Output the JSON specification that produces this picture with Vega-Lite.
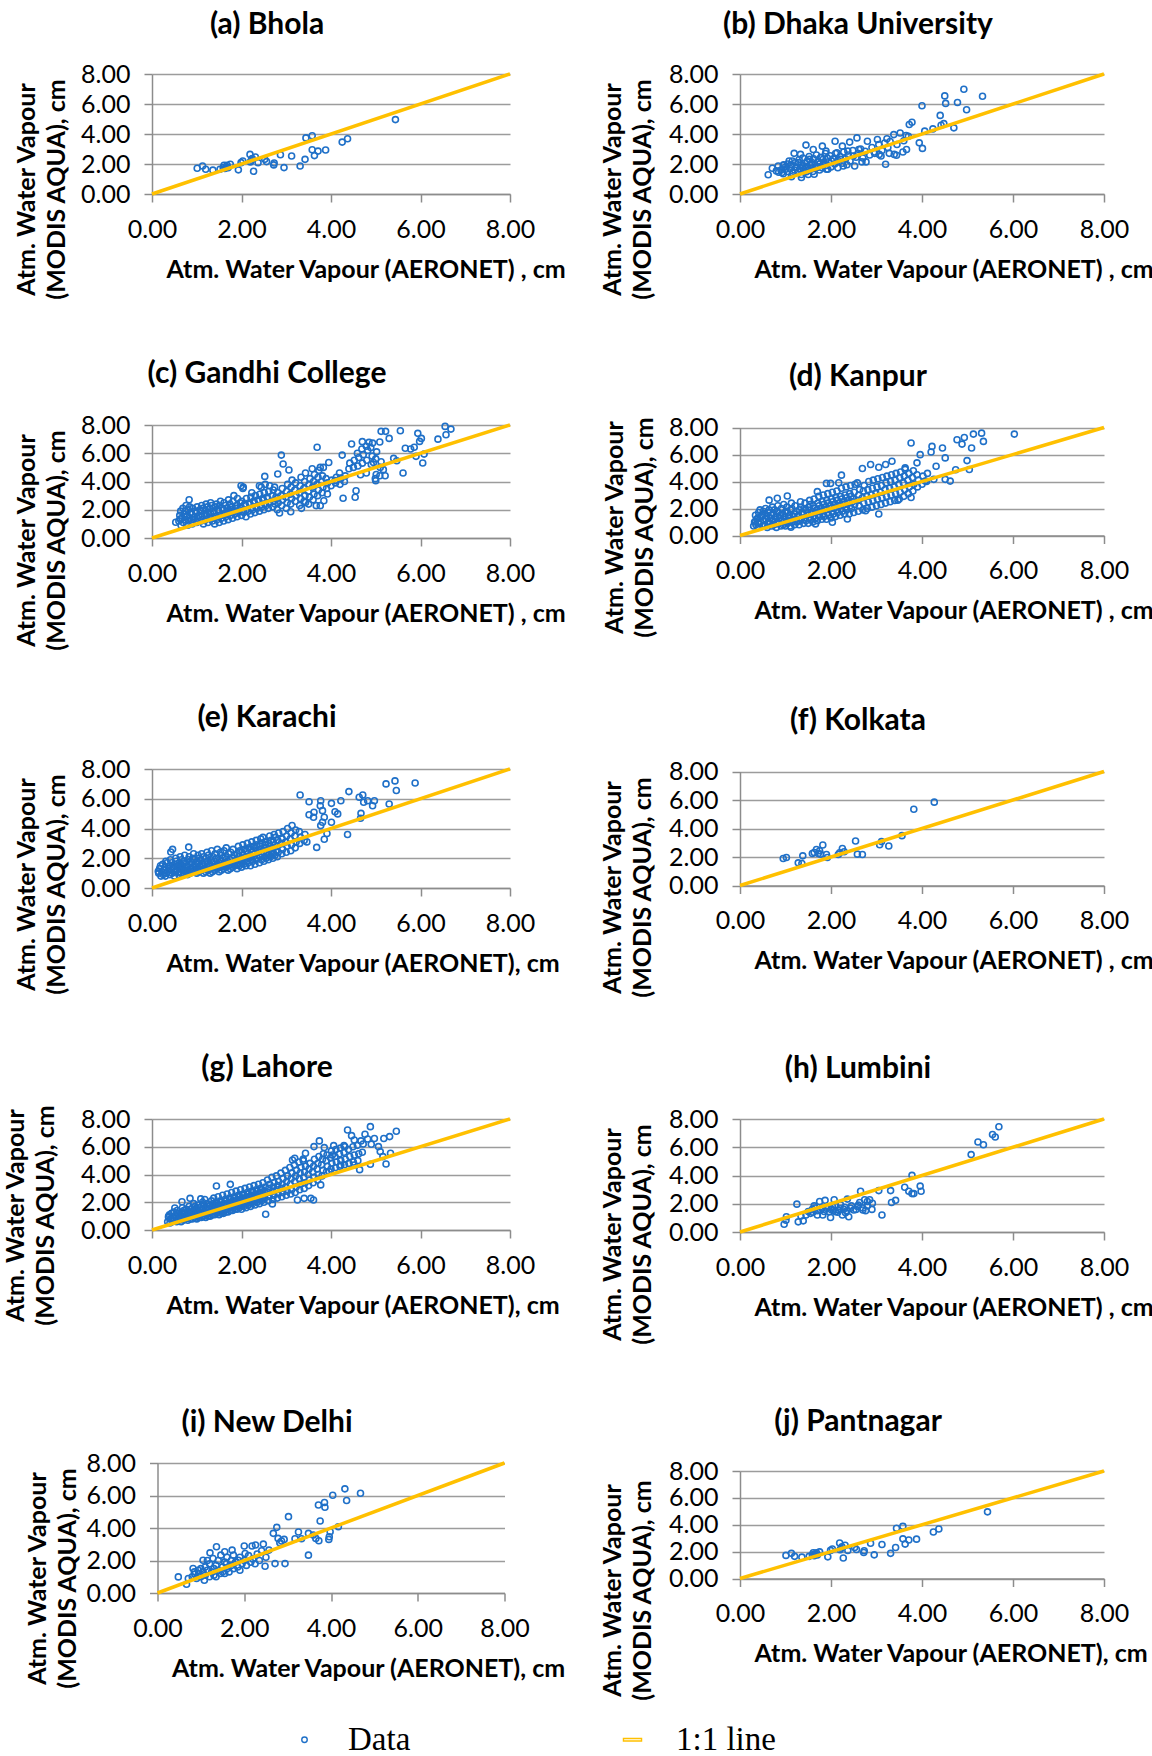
{
"$schema": "https://vega.github.io/schema/vega-lite/v6.json",
"padding": {"left": 3, "top": 9, "right": 0, "bottom": 0},
"background": "white",
"config": {
 "font": "Lato",
 "numberFormat": ".2f",
 "view": {"stroke": null},
 "title": {"font": "Lato", "fontSize": 30, "fontWeight": "bold", "color": "#000", "anchor": "middle", "frame": "group", "dx": -64, "baseline": "middle"},
 "axis": {"labelFont": "Lato", "labelFontSize": 25, "labelColor": "#000", "titleFont": "Lato", "titleFontSize": 25, "titleFontWeight": "bold", "titleColor": "#000", "domainColor": "#8c8c8c", "domainWidth": 1.5, "tickColor": "#8c8c8c", "tickWidth": 1.5, "tickSize": 8, "gridColor": "#9c9c9c", "gridWidth": 1.5, "gridOpacity": 1, "labelFlush": false, "labelOverlap": false, "titleLimit": 1000},
 "axisX": {"grid": false, "labelPadding": 15, "titleAnchor": "start", "titleAlign": "left", "titleX": 14, "titleY": 75, "titleBaseline": "middle", "labelOverlap": false},
 "axisY": {"grid": true, "labelPadding": 14, "titleAngle": -90, "titleAlign": "center", "titleBaseline": "middle", "titleX": -126, "titleY": 115, "titleLineHeight": 30, "labelOverlap": false}
},
"datasets": {
 "line": [{"x":0,"y":0},{"x":8,"y":8}],
 "a": [{"x":1.01,"y":1.72},{"x":1.13,"y":1.87},{"x":1.2,"y":1.65},{"x":1.36,"y":1.59},{"x":1.52,"y":1.65},{"x":1.59,"y":1.76},{"x":1.61,"y":1.92},{"x":1.63,"y":1.7},{"x":1.66,"y":1.81},{"x":1.68,"y":1.92},{"x":1.7,"y":1.75},{"x":1.75,"y":1.98},{"x":1.93,"y":1.61},{"x":1.99,"y":2.09},{"x":2.03,"y":2.2},{"x":2.19,"y":2.64},{"x":2.2,"y":2.14},{"x":2.22,"y":2.25},{"x":2.24,"y":2.36},{"x":2.27,"y":1.52},{"x":2.31,"y":2.47},{"x":2.37,"y":2.09},{"x":2.52,"y":2.31},{"x":2.56,"y":2.16},{"x":2.72,"y":1.94},{"x":2.73,"y":2.07},{"x":2.87,"y":2.62},{"x":2.95,"y":1.76},{"x":3.12,"y":2.53},{"x":3.31,"y":1.87},{"x":3.42,"y":2.31},{"x":3.44,"y":3.74},{"x":3.58,"y":3.88},{"x":3.58,"y":2.95},{"x":3.63,"y":2.56},{"x":3.71,"y":2.86},{"x":3.88,"y":2.93},{"x":4.25,"y":3.46},{"x":4.37,"y":3.68},{"x":5.44,"y":4.96}],
 "b": [{"x":0.62,"y":1.28},{"x":0.71,"y":1.72},{"x":0.8,"y":1.54},{"x":0.84,"y":1.87},{"x":0.92,"y":1.43},{"x":0.96,"y":1.94},{"x":1.0,"y":1.65},{"x":1.08,"y":2.2},{"x":1.13,"y":1.15},{"x":1.19,"y":2.71},{"x":1.23,"y":1.76},{"x":1.29,"y":2.09},{"x":1.33,"y":2.64},{"x":1.35,"y":1.1},{"x":1.38,"y":1.87},{"x":1.45,"y":3.26},{"x":1.46,"y":1.48},{"x":1.53,"y":2.31},{"x":1.58,"y":1.98},{"x":1.61,"y":2.97},{"x":1.63,"y":1.32},{"x":1.69,"y":1.76},{"x":1.77,"y":2.42},{"x":1.81,"y":3.19},{"x":1.83,"y":1.98},{"x":1.89,"y":2.86},{"x":1.93,"y":1.65},{"x":2.01,"y":2.2},{"x":2.09,"y":3.52},{"x":2.13,"y":2.75},{"x":2.21,"y":2.31},{"x":2.25,"y":3.19},{"x":2.27,"y":1.87},{"x":2.37,"y":2.86},{"x":2.41,"y":3.46},{"x":2.49,"y":2.53},{"x":2.52,"y":1.87},{"x":2.57,"y":3.74},{"x":2.61,"y":2.97},{"x":2.68,"y":2.14},{"x":2.77,"y":2.14},{"x":2.8,"y":3.52},{"x":2.96,"y":2.71},{"x":3.02,"y":3.63},{"x":3.06,"y":2.64},{"x":3.1,"y":2.53},{"x":3.2,"y":1.98},{"x":3.23,"y":3.68},{"x":3.28,"y":2.71},{"x":3.38,"y":3.96},{"x":3.39,"y":2.64},{"x":3.44,"y":2.58},{"x":3.52,"y":4.07},{"x":3.58,"y":2.8},{"x":3.66,"y":2.97},{"x":3.7,"y":3.85},{"x":3.72,"y":4.63},{"x":3.78,"y":4.78},{"x":3.94,"y":3.41},{"x":4.0,"y":5.88},{"x":4.01,"y":3.04},{"x":4.06,"y":4.19},{"x":4.24,"y":4.34},{"x":4.4,"y":5.24},{"x":4.42,"y":4.58},{"x":4.48,"y":4.69},{"x":4.5,"y":6.54},{"x":4.52,"y":6.04},{"x":4.7,"y":4.41},{"x":4.78,"y":6.1},{"x":4.92,"y":6.98},{"x":4.98,"y":5.62},{"x":5.33,"y":6.52},
  {"x":0.85,"y":1.45},{"x":0.9,"y":1.6},{"x":0.95,"y":1.35},{"x":1.0,"y":1.8},{"x":1.05,"y":1.5},{"x":1.1,"y":1.7},{"x":1.12,"y":1.95},{"x":1.15,"y":1.4},{"x":1.2,"y":1.6},{"x":1.22,"y":2.1},{"x":1.25,"y":1.8},{"x":1.28,"y":1.5},{"x":1.3,"y":2.3},{"x":1.32,"y":1.7},{"x":1.35,"y":1.95},{"x":1.38,"y":2.4},{"x":1.4,"y":1.55},{"x":1.42,"y":2.05},{"x":1.45,"y":1.8},{"x":1.48,"y":2.2},{"x":1.5,"y":1.6},{"x":1.52,"y":2.5},{"x":1.55,"y":1.9},{"x":1.58,"y":2.1},{"x":1.6,"y":1.7},{"x":1.62,"y":2.35},{"x":1.65,"y":1.95},{"x":1.68,"y":2.6},{"x":1.7,"y":1.8},{"x":1.72,"y":2.2},{"x":1.75,"y":2.0},{"x":1.78,"y":2.45},{"x":1.8,"y":1.75},{"x":1.82,"y":2.3},{"x":1.85,"y":2.05},{"x":1.88,"y":2.7},{"x":1.9,"y":1.9},{"x":1.92,"y":2.4},{"x":1.95,"y":2.15},{"x":1.98,"y":2.55},{"x":2.0,"y":1.8},{"x":2.05,"y":2.35},{"x":2.08,"y":2.0},{"x":2.1,"y":2.7},{"x":2.15,"y":2.25},{"x":2.2,"y":2.5},{"x":2.25,"y":2.05},{"x":2.28,"y":2.8},{"x":2.32,"y":2.35},{"x":2.38,"y":2.6},{"x":2.42,"y":2.2},{"x":2.48,"y":2.9},{"x":2.55,"y":2.45},{"x":2.6,"y":2.7},{"x":2.65,"y":3.0},{"x":2.7,"y":2.4},{"x":2.75,"y":2.85},{"x":2.85,"y":2.6},{"x":2.9,"y":3.1},{"x":2.95,"y":2.8},{"x":3.05,"y":3.3},{"x":3.12,"y":2.9},{"x":3.18,"y":3.4},{"x":3.25,"y":3.1},{"x":3.3,"y":3.5},{"x":3.45,"y":3.3},{"x":3.6,"y":3.55},{"x":3.65,"y":3.9},{"x":1.15,"y":2.2},{"x":1.35,"y":1.3},{"x":1.5,"y":1.3},{"x":1.6,"y":1.5},{"x":1.75,"y":1.6},{"x":0.95,"y":1.9},{"x":1.05,"y":2.0},{"x":2.35,"y":1.95},{"x":2.15,"y":1.75},{"x":1.9,"y":1.65}],
 "c": [{"x":0.53,"y":1.11},{"x":0.63,"y":1.34},{"x":0.83,"y":2.71},{"x":2.89,"y":5.87},{"x":2.93,"y":5.24},{"x":3.06,"y":4.81},{"x":2.81,"y":4.53},{"x":2.52,"y":4.36},{"x":2.4,"y":3.7},{"x":1.99,"y":3.7},{"x":3.69,"y":6.42},{"x":3.76,"y":5.0},{"x":3.95,"y":5.35},{"x":4.25,"y":5.87},{"x":4.46,"y":6.65},{"x":4.7,"y":6.82},{"x":4.85,"y":6.77},{"x":4.93,"y":6.72},{"x":5.12,"y":7.55},{"x":5.22,"y":7.55},{"x":5.3,"y":7.05},{"x":5.55,"y":7.59},{"x":5.61,"y":4.6},{"x":5.47,"y":5.47},{"x":5.4,"y":5.64},{"x":5.94,"y":7.41},{"x":6.02,"y":7.05},{"x":5.98,"y":6.84},{"x":6.08,"y":5.94},{"x":6.05,"y":5.31},{"x":5.86,"y":6.42},{"x":5.9,"y":5.78},{"x":6.39,"y":7.0},{"x":6.57,"y":7.31},{"x":6.55,"y":7.9},{"x":6.68,"y":7.71},{"x":5.78,"y":6.3},{"x":5.66,"y":6.35},{"x":5.21,"y":4.41},{"x":5.17,"y":4.84},{"x":5.09,"y":4.41},{"x":5.0,"y":4.06},{"x":4.95,"y":5.35},{"x":4.79,"y":4.6},{"x":4.66,"y":4.48},{"x":4.56,"y":3.35},{"x":4.54,"y":2.88},{"x":4.27,"y":2.81},{"x":4.21,"y":4.24},{"x":4.09,"y":4.06},{"x":3.92,"y":3.11},{"x":3.84,"y":2.64},{"x":3.76,"y":2.29},{"x":3.67,"y":2.29},{"x":3.43,"y":2.52},{"x":3.34,"y":2.1},{"x":3.1,"y":1.86},{"x":2.85,"y":1.77},
  {"x":0.6,"y":1.2},{"x":0.62,"y":1.6},{"x":0.65,"y":0.9},{"x":0.67,"y":1.4},{"x":0.64,"y":1.9},{"x":0.7,"y":1.1},{"x":0.72,"y":1.7},{"x":0.69,"y":2.1},{"x":0.75,"y":1.3},{"x":0.77,"y":1.5},{"x":0.74,"y":1.9},{"x":0.76,"y":2.3},{"x":0.8,"y":0.9},{"x":0.82,"y":1.2},{"x":0.79,"y":1.6},{"x":0.81,"y":2.0},{"x":0.85,"y":1.4},{"x":0.87,"y":1.8},{"x":0.84,"y":2.2},{"x":0.9,"y":1.0},{"x":0.92,"y":1.3},{"x":0.89,"y":1.7},{"x":0.91,"y":2.1},{"x":0.95,"y":1.5},{"x":0.97,"y":1.9},{"x":1.0,"y":1.1},{"x":1.02,"y":1.4},{"x":0.99,"y":1.8},{"x":1.01,"y":2.2},{"x":1.05,"y":1.6},{"x":1.07,"y":2.0},{"x":1.1,"y":1.2},{"x":1.12,"y":1.5},{"x":1.09,"y":1.9},{"x":1.11,"y":2.3},{"x":1.15,"y":1.0},{"x":1.17,"y":1.7},{"x":1.14,"y":2.1},{"x":1.2,"y":1.3},{"x":1.22,"y":1.6},{"x":1.19,"y":2.0},{"x":1.21,"y":2.4},{"x":1.25,"y":1.1},{"x":1.27,"y":1.8},{"x":1.24,"y":2.2},{"x":1.3,"y":1.4},{"x":1.32,"y":1.7},{"x":1.29,"y":2.1},{"x":1.31,"y":2.5},{"x":1.35,"y":1.2},{"x":1.37,"y":1.9},{"x":1.34,"y":2.3},{"x":1.4,"y":1.0},{"x":1.42,"y":1.5},{"x":1.39,"y":1.8},{"x":1.41,"y":2.2},{"x":1.45,"y":1.3},{"x":1.47,"y":2.0},{"x":1.44,"y":2.4},{"x":1.5,"y":1.1},{"x":1.52,"y":1.6},{"x":1.49,"y":1.9},{"x":1.51,"y":2.3},{"x":1.53,"y":2.6},{"x":1.55,"y":1.4},{"x":1.57,"y":2.1},{"x":1.6,"y":1.2},{"x":1.62,"y":1.7},{"x":1.59,"y":2.0},{"x":1.61,"y":2.5},{"x":1.65,"y":1.5},{"x":1.67,"y":1.9},{"x":1.64,"y":2.3},{"x":1.7,"y":1.3},{"x":1.72,"y":1.8},{"x":1.69,"y":2.1},{"x":1.71,"y":2.7},{"x":1.75,"y":1.6},{"x":1.77,"y":2.0},{"x":1.74,"y":2.4},{"x":1.8,"y":1.4},{"x":1.82,"y":1.9},{"x":1.79,"y":2.2},{"x":1.81,"y":2.6},{"x":1.83,"y":3.0},{"x":1.85,"y":1.7},{"x":1.87,"y":2.1},{"x":1.9,"y":1.5},{"x":1.92,"y":1.8},{"x":1.89,"y":2.3},{"x":1.91,"y":2.8},{"x":1.95,"y":2.0},{"x":1.97,"y":2.5},{"x":2.0,"y":1.6},{"x":2.02,"y":1.9},{"x":1.99,"y":2.2},{"x":2.01,"y":2.6},{"x":2.03,"y":3.5},{"x":2.05,"y":1.8},{"x":2.07,"y":2.4},{"x":2.04,"y":3.6},{"x":2.1,"y":1.5},{"x":2.12,"y":2.0},{"x":2.09,"y":2.3},{"x":2.11,"y":2.8},{"x":2.15,"y":1.9},{"x":2.17,"y":2.5},{"x":2.2,"y":1.7},{"x":2.22,"y":2.1},{"x":2.19,"y":2.4},{"x":2.21,"y":2.9},{"x":2.23,"y":3.2},{"x":2.25,"y":2.0},{"x":2.27,"y":2.6},{"x":2.3,"y":1.8},{"x":2.32,"y":2.2},{"x":2.29,"y":2.5},{"x":2.31,"y":3.0},{"x":2.35,"y":2.1},{"x":2.37,"y":2.7},{"x":2.4,"y":1.9},{"x":2.42,"y":2.3},{"x":2.39,"y":2.6},{"x":2.41,"y":3.1},{"x":2.45,"y":2.2},{"x":2.47,"y":2.8},{"x":2.44,"y":3.6},{"x":2.5,"y":2.0},{"x":2.52,"y":2.4},{"x":2.49,"y":2.7},{"x":2.51,"y":3.2},{"x":2.53,"y":3.8},{"x":2.55,"y":2.3},{"x":2.57,"y":2.9},{"x":2.6,"y":2.1},{"x":2.62,"y":2.5},{"x":2.59,"y":2.8},{"x":2.61,"y":3.3},{"x":2.63,"y":3.7},{"x":2.7,"y":2.2},{"x":2.72,"y":2.6},{"x":2.69,"y":3.0},{"x":2.71,"y":3.4},{"x":2.75,"y":2.4},{"x":2.77,"y":2.9},{"x":2.74,"y":3.6},{"x":2.8,"y":2.0},{"x":2.82,"y":2.5},{"x":2.79,"y":2.8},{"x":2.81,"y":3.2},{"x":2.9,"y":2.3},{"x":2.92,"y":2.7},{"x":2.89,"y":3.0},{"x":2.91,"y":3.5},{"x":3.0,"y":2.1},{"x":3.02,"y":2.5},{"x":2.99,"y":2.9},{"x":3.01,"y":3.3},{"x":3.03,"y":3.8},{"x":3.1,"y":2.4},{"x":3.12,"y":2.8},{"x":3.09,"y":3.1},{"x":3.11,"y":3.6},{"x":3.13,"y":4.1},{"x":3.2,"y":2.6},{"x":3.22,"y":3.0},{"x":3.19,"y":3.4},{"x":3.21,"y":3.9},{"x":3.3,"y":2.3},{"x":3.32,"y":2.8},{"x":3.29,"y":3.2},{"x":3.31,"y":3.7},{"x":3.33,"y":4.3},{"x":3.4,"y":2.6},{"x":3.42,"y":3.0},{"x":3.39,"y":3.5},{"x":3.41,"y":4.0},{"x":3.43,"y":4.6},{"x":3.5,"y":2.4},{"x":3.52,"y":2.9},{"x":3.49,"y":3.3},{"x":3.51,"y":3.8},{"x":3.53,"y":4.2},{"x":3.6,"y":2.7},{"x":3.62,"y":3.1},{"x":3.59,"y":3.6},{"x":3.61,"y":4.0},{"x":3.63,"y":4.5},{"x":3.58,"y":4.9},{"x":3.7,"y":3.0},{"x":3.72,"y":3.4},{"x":3.69,"y":3.8},{"x":3.71,"y":4.3},{"x":3.73,"y":4.8},{"x":3.8,"y":3.2},{"x":3.82,"y":3.6},{"x":3.79,"y":4.0},{"x":3.81,"y":4.4},{"x":3.83,"y":5.0},{"x":3.9,"y":3.5},{"x":3.92,"y":3.9},{"x":3.89,"y":4.2},{"x":4.0,"y":3.7},{"x":4.02,"y":4.1},{"x":4.1,"y":3.9},{"x":4.12,"y":4.3},{"x":4.2,"y":3.8},{"x":4.22,"y":4.2},{"x":4.19,"y":4.6},{"x":4.3,"y":4.0},{"x":4.32,"y":4.4},{"x":4.4,"y":4.9},{"x":4.42,"y":5.3},{"x":4.5,"y":5.0},{"x":4.52,"y":5.5},{"x":4.6,"y":5.1},{"x":4.62,"y":5.7},{"x":4.59,"y":6.0},{"x":4.7,"y":5.3},{"x":4.72,"y":5.9},{"x":4.69,"y":6.3},{"x":4.8,"y":5.5},{"x":4.82,"y":6.2},{"x":4.79,"y":6.5},{"x":4.9,"y":5.2},{"x":4.92,"y":5.8},{"x":4.89,"y":6.4},{"x":5.0,"y":5.6},{"x":5.02,"y":6.1},{"x":4.99,"y":4.2},{"x":5.01,"y":4.5},{"x":5.1,"y":5.0},{"x":5.12,"y":5.4},{"x":5.09,"y":6.8}],
 "d": [{"x":0.34,"y":1.05},{"x":0.64,"y":2.62},{"x":0.82,"y":2.76},{"x":1.04,"y":2.93},{"x":1.7,"y":3.25},{"x":1.9,"y":3.86},{"x":1.99,"y":3.86},{"x":2.17,"y":3.91},{"x":2.23,"y":4.47},{"x":2.69,"y":4.96},{"x":2.87,"y":5.26},{"x":3.05,"y":5.06},{"x":3.2,"y":5.26},{"x":3.34,"y":5.5},{"x":3.63,"y":5.01},{"x":3.76,"y":6.85},{"x":3.89,"y":5.38},{"x":3.96,"y":5.99},{"x":4.22,"y":6.6},{"x":4.2,"y":6.19},{"x":4.31,"y":5.13},{"x":4.45,"y":6.48},{"x":4.51,"y":5.75},{"x":4.62,"y":4.03},{"x":4.74,"y":4.87},{"x":4.77,"y":7.09},{"x":4.88,"y":6.77},{"x":4.93,"y":7.26},{"x":4.99,"y":5.55},{"x":5.04,"y":4.89},{"x":5.09,"y":6.48},{"x":5.13,"y":7.51},{"x":5.31,"y":7.58},{"x":5.35,"y":6.97},{"x":6.03,"y":7.51},{"x":4.51,"y":4.16},{"x":4.26,"y":4.16},{"x":4.07,"y":4.03},{"x":3.76,"y":2.81},{"x":3.47,"y":2.62},{"x":3.05,"y":1.59},{"x":2.76,"y":1.83},{"x":2.36,"y":1.22},{"x":2.03,"y":0.98},{"x":1.66,"y":0.86},{"x":1.12,"y":0.61},
  {"x":0.3,"y":0.7},{"x":0.32,"y":1.0},{"x":0.35,"y":0.8},{"x":0.37,"y":1.2},{"x":0.34,"y":1.5},{"x":0.4,"y":0.6},{"x":0.42,"y":0.9},{"x":0.39,"y":1.3},{"x":0.41,"y":1.7},{"x":0.45,"y":1.0},{"x":0.47,"y":1.4},{"x":0.44,"y":1.9},{"x":0.5,"y":0.7},{"x":0.52,"y":1.1},{"x":0.49,"y":1.5},{"x":0.51,"y":1.8},{"x":0.55,"y":0.8},{"x":0.57,"y":1.2},{"x":0.54,"y":1.6},{"x":0.56,"y":2.0},{"x":0.6,"y":0.6},{"x":0.62,"y":1.0},{"x":0.59,"y":1.4},{"x":0.61,"y":1.7},{"x":0.65,"y":0.9},{"x":0.67,"y":1.3},{"x":0.64,"y":1.9},{"x":0.7,"y":0.7},{"x":0.72,"y":1.1},{"x":0.69,"y":1.5},{"x":0.71,"y":2.1},{"x":0.75,"y":0.8},{"x":0.77,"y":1.2},{"x":0.74,"y":1.6},{"x":0.76,"y":1.9},{"x":0.8,"y":0.6},{"x":0.82,"y":1.0},{"x":0.79,"y":1.4},{"x":0.81,"y":1.8},{"x":0.83,"y":2.2},{"x":0.85,"y":0.9},{"x":0.87,"y":1.3},{"x":0.84,"y":1.7},{"x":0.9,"y":0.7},{"x":0.92,"y":1.1},{"x":0.89,"y":1.5},{"x":0.91,"y":2.0},{"x":0.95,"y":0.8},{"x":0.97,"y":1.2},{"x":0.94,"y":1.6},{"x":0.96,"y":2.3},{"x":1.0,"y":0.7},{"x":1.02,"y":1.0},{"x":0.99,"y":1.4},{"x":1.01,"y":1.8},{"x":1.03,"y":2.1},{"x":1.05,"y":0.9},{"x":1.07,"y":1.3},{"x":1.04,"y":1.7},{"x":1.1,"y":0.7},{"x":1.12,"y":1.1},{"x":1.09,"y":1.5},{"x":1.11,"y":1.9},{"x":1.13,"y":2.4},{"x":1.15,"y":1.0},{"x":1.17,"y":1.4},{"x":1.14,"y":2.0},{"x":1.2,"y":0.8},{"x":1.22,"y":1.2},{"x":1.19,"y":1.6},{"x":1.21,"y":2.2},{"x":1.25,"y":1.0},{"x":1.27,"y":1.4},{"x":1.24,"y":1.8},{"x":1.3,"y":0.8},{"x":1.32,"y":1.1},{"x":1.29,"y":1.5},{"x":1.31,"y":1.9},{"x":1.33,"y":2.5},{"x":1.35,"y":1.3},{"x":1.37,"y":1.7},{"x":1.34,"y":2.1},{"x":1.4,"y":0.9},{"x":1.42,"y":1.2},{"x":1.39,"y":1.6},{"x":1.41,"y":2.0},{"x":1.43,"y":2.4},{"x":1.45,"y":1.1},{"x":1.47,"y":1.5},{"x":1.44,"y":1.9},{"x":1.5,"y":0.9},{"x":1.52,"y":1.3},{"x":1.49,"y":1.7},{"x":1.51,"y":2.1},{"x":1.53,"y":2.6},{"x":1.55,"y":1.2},{"x":1.57,"y":1.6},{"x":1.54,"y":2.3},{"x":1.6,"y":1.0},{"x":1.62,"y":1.4},{"x":1.59,"y":1.8},{"x":1.61,"y":2.2},{"x":1.63,"y":2.7},{"x":1.65,"y":1.3},{"x":1.67,"y":1.7},{"x":1.64,"y":2.0},{"x":1.7,"y":1.1},{"x":1.72,"y":1.5},{"x":1.69,"y":1.9},{"x":1.71,"y":2.4},{"x":1.73,"y":2.9},{"x":1.75,"y":1.4},{"x":1.77,"y":1.8},{"x":1.74,"y":2.2},{"x":1.8,"y":1.2},{"x":1.82,"y":1.6},{"x":1.79,"y":2.0},{"x":1.81,"y":2.5},{"x":1.83,"y":3.0},{"x":1.85,"y":1.4},{"x":1.87,"y":1.9},{"x":1.84,"y":2.3},{"x":1.9,"y":1.2},{"x":1.92,"y":1.7},{"x":1.89,"y":2.1},{"x":1.91,"y":2.6},{"x":1.93,"y":3.1},{"x":1.95,"y":1.5},{"x":1.97,"y":2.0},{"x":1.94,"y":2.4},{"x":2.0,"y":1.3},{"x":2.02,"y":1.8},{"x":1.99,"y":2.2},{"x":2.01,"y":2.7},{"x":2.03,"y":3.2},{"x":2.05,"y":1.6},{"x":2.07,"y":2.0},{"x":2.04,"y":2.5},{"x":2.1,"y":1.4},{"x":2.12,"y":1.9},{"x":2.09,"y":2.3},{"x":2.11,"y":2.8},{"x":2.13,"y":3.3},{"x":2.15,"y":1.7},{"x":2.17,"y":2.2},{"x":2.14,"y":2.6},{"x":2.2,"y":1.5},{"x":2.22,"y":2.0},{"x":2.19,"y":2.4},{"x":2.21,"y":2.9},{"x":2.23,"y":3.5},{"x":2.25,"y":1.8},{"x":2.27,"y":2.3},{"x":2.24,"y":2.7},{"x":2.3,"y":1.6},{"x":2.32,"y":2.1},{"x":2.29,"y":2.5},{"x":2.31,"y":3.0},{"x":2.33,"y":3.6},{"x":2.35,"y":1.9},{"x":2.37,"y":2.4},{"x":2.34,"y":2.8},{"x":2.4,"y":1.6},{"x":2.42,"y":2.2},{"x":2.39,"y":2.6},{"x":2.41,"y":3.1},{"x":2.43,"y":3.7},{"x":2.45,"y":2.0},{"x":2.47,"y":2.5},{"x":2.44,"y":2.9},{"x":2.5,"y":1.7},{"x":2.52,"y":2.3},{"x":2.49,"y":2.7},{"x":2.51,"y":3.2},{"x":2.53,"y":3.8},{"x":2.6,"y":1.8},{"x":2.62,"y":2.2},{"x":2.59,"y":2.6},{"x":2.61,"y":3.0},{"x":2.63,"y":3.4},{"x":2.58,"y":3.9},{"x":2.7,"y":1.9},{"x":2.72,"y":2.4},{"x":2.69,"y":2.8},{"x":2.71,"y":3.3},{"x":2.73,"y":3.7},{"x":2.8,"y":2.0},{"x":2.82,"y":2.5},{"x":2.79,"y":2.9},{"x":2.81,"y":3.4},{"x":2.83,"y":4.0},{"x":2.9,"y":2.1},{"x":2.92,"y":2.6},{"x":2.89,"y":3.0},{"x":2.91,"y":3.5},{"x":2.93,"y":4.1},{"x":3.0,"y":2.2},{"x":3.02,"y":2.7},{"x":2.99,"y":3.1},{"x":3.01,"y":3.6},{"x":3.03,"y":4.2},{"x":3.1,"y":2.3},{"x":3.12,"y":2.8},{"x":3.09,"y":3.2},{"x":3.11,"y":3.7},{"x":3.13,"y":4.3},{"x":3.2,"y":2.4},{"x":3.22,"y":2.9},{"x":3.19,"y":3.4},{"x":3.21,"y":3.9},{"x":3.23,"y":4.4},{"x":3.3,"y":2.5},{"x":3.32,"y":3.0},{"x":3.29,"y":3.5},{"x":3.31,"y":4.0},{"x":3.33,"y":4.5},{"x":3.4,"y":2.6},{"x":3.42,"y":3.1},{"x":3.39,"y":3.6},{"x":3.41,"y":4.1},{"x":3.43,"y":4.6},{"x":3.5,"y":2.7},{"x":3.52,"y":3.2},{"x":3.49,"y":3.8},{"x":3.51,"y":4.3},{"x":3.53,"y":4.7},{"x":3.6,"y":2.9},{"x":3.62,"y":3.4},{"x":3.59,"y":3.9},{"x":3.61,"y":4.4},{"x":3.63,"y":4.9},{"x":3.7,"y":3.1},{"x":3.72,"y":3.6},{"x":3.69,"y":4.1},{"x":3.71,"y":4.6},{"x":3.8,"y":3.3},{"x":3.82,"y":3.8},{"x":3.79,"y":4.3},{"x":3.81,"y":4.8},{"x":3.9,"y":3.6},{"x":3.92,"y":4.1},{"x":3.89,"y":4.5},{"x":4.0,"y":3.8},{"x":4.02,"y":4.4},{"x":4.1,"y":4.0},{"x":4.12,"y":4.6}],
 "e": [{"x":0.14,"y":1.12},{"x":0.42,"y":2.42},{"x":0.46,"y":2.6},{"x":0.82,"y":2.75},{"x":3.31,"y":6.25},{"x":3.51,"y":5.8},{"x":3.77,"y":5.87},{"x":3.76,"y":5.53},{"x":3.81,"y":5.2},{"x":3.62,"y":5.09},{"x":3.51,"y":4.92},{"x":3.61,"y":4.76},{"x":3.85,"y":4.76},{"x":3.81,"y":4.42},{"x":3.77,"y":4.2},{"x":4.01,"y":5.69},{"x":4.09,"y":5.13},{"x":4.15,"y":4.98},{"x":4.01,"y":4.42},{"x":4.22,"y":5.87},{"x":4.4,"y":6.48},{"x":3.91,"y":3.66},{"x":3.85,"y":3.28},{"x":3.68,"y":2.73},{"x":3.46,"y":3.1},{"x":4.37,"y":3.6},{"x":4.63,"y":6.1},{"x":4.71,"y":6.25},{"x":4.73,"y":5.76},{"x":4.82,"y":5.87},{"x":4.97,"y":5.87},{"x":4.93,"y":5.53},{"x":4.66,"y":4.69},{"x":4.67,"y":5.02},{"x":5.23,"y":7.0},{"x":5.43,"y":7.2},{"x":5.46,"y":6.55},{"x":5.3,"y":5.65},{"x":5.88,"y":7.06},
  {"x":0.15,"y":1.0},{"x":0.17,"y":1.3},{"x":0.2,"y":0.8},{"x":0.22,"y":1.1},{"x":0.19,"y":1.5},{"x":0.25,"y":0.9},{"x":0.27,"y":1.2},{"x":0.24,"y":1.6},{"x":0.3,"y":0.8},{"x":0.32,"y":1.0},{"x":0.29,"y":1.4},{"x":0.31,"y":1.8},{"x":0.35,"y":1.1},{"x":0.37,"y":1.3},{"x":0.34,"y":1.7},{"x":0.4,"y":0.9},{"x":0.42,"y":1.2},{"x":0.39,"y":1.5},{"x":0.41,"y":1.9},{"x":0.45,"y":1.0},{"x":0.47,"y":1.4},{"x":0.44,"y":1.7},{"x":0.5,"y":0.8},{"x":0.52,"y":1.1},{"x":0.49,"y":1.3},{"x":0.51,"y":1.6},{"x":0.53,"y":2.0},{"x":0.55,"y":1.2},{"x":0.57,"y":1.5},{"x":0.54,"y":1.8},{"x":0.6,"y":0.9},{"x":0.62,"y":1.1},{"x":0.59,"y":1.4},{"x":0.61,"y":1.7},{"x":0.63,"y":2.1},{"x":0.65,"y":1.0},{"x":0.67,"y":1.3},{"x":0.64,"y":1.6},{"x":0.66,"y":1.9},{"x":0.7,"y":0.9},{"x":0.72,"y":1.2},{"x":0.69,"y":1.5},{"x":0.71,"y":1.8},{"x":0.73,"y":2.2},{"x":0.75,"y":1.1},{"x":0.77,"y":1.4},{"x":0.74,"y":1.7},{"x":0.8,"y":0.9},{"x":0.82,"y":1.2},{"x":0.79,"y":1.5},{"x":0.81,"y":1.9},{"x":0.83,"y":2.1},{"x":0.85,"y":1.0},{"x":0.87,"y":1.3},{"x":0.84,"y":1.6},{"x":0.86,"y":1.8},{"x":0.9,"y":1.1},{"x":0.92,"y":1.4},{"x":0.89,"y":1.7},{"x":0.91,"y":2.0},{"x":0.93,"y":2.3},{"x":0.95,"y":1.2},{"x":0.97,"y":1.5},{"x":0.94,"y":1.9},{"x":1.0,"y":1.0},{"x":1.02,"y":1.3},{"x":0.99,"y":1.6},{"x":1.01,"y":1.8},{"x":1.03,"y":2.2},{"x":1.05,"y":1.1},{"x":1.07,"y":1.4},{"x":1.04,"y":1.7},{"x":1.06,"y":2.0},{"x":1.1,"y":1.2},{"x":1.12,"y":1.5},{"x":1.09,"y":1.9},{"x":1.11,"y":2.3},{"x":1.15,"y":1.0},{"x":1.17,"y":1.3},{"x":1.14,"y":1.6},{"x":1.16,"y":2.1},{"x":1.2,"y":1.1},{"x":1.22,"y":1.4},{"x":1.19,"y":1.7},{"x":1.21,"y":2.0},{"x":1.23,"y":2.4},{"x":1.25,"y":1.2},{"x":1.27,"y":1.5},{"x":1.24,"y":1.8},{"x":1.26,"y":2.2},{"x":1.3,"y":1.0},{"x":1.32,"y":1.3},{"x":1.29,"y":1.6},{"x":1.31,"y":1.9},{"x":1.33,"y":2.5},{"x":1.35,"y":1.1},{"x":1.37,"y":1.4},{"x":1.34,"y":1.7},{"x":1.36,"y":2.1},{"x":1.4,"y":1.2},{"x":1.42,"y":1.5},{"x":1.39,"y":1.8},{"x":1.41,"y":2.3},{"x":1.45,"y":1.3},{"x":1.47,"y":1.6},{"x":1.44,"y":2.0},{"x":1.46,"y":2.6},{"x":1.5,"y":1.1},{"x":1.52,"y":1.4},{"x":1.49,"y":1.7},{"x":1.51,"y":1.9},{"x":1.53,"y":2.4},{"x":1.55,"y":1.2},{"x":1.57,"y":1.5},{"x":1.54,"y":1.8},{"x":1.56,"y":2.2},{"x":1.6,"y":1.3},{"x":1.62,"y":1.6},{"x":1.59,"y":2.0},{"x":1.61,"y":2.5},{"x":1.65,"y":1.4},{"x":1.67,"y":1.7},{"x":1.64,"y":2.1},{"x":1.66,"y":2.7},{"x":1.7,"y":1.2},{"x":1.72,"y":1.5},{"x":1.69,"y":1.8},{"x":1.71,"y":2.3},{"x":1.75,"y":1.3},{"x":1.77,"y":1.6},{"x":1.74,"y":1.9},{"x":1.76,"y":2.4},{"x":1.8,"y":1.4},{"x":1.82,"y":1.7},{"x":1.79,"y":2.0},{"x":1.81,"y":2.6},{"x":1.85,"y":1.5},{"x":1.87,"y":1.8},{"x":1.84,"y":2.2},{"x":1.9,"y":1.3},{"x":1.92,"y":1.6},{"x":1.89,"y":1.9},{"x":1.91,"y":2.3},{"x":1.93,"y":2.8},{"x":1.95,"y":1.5},{"x":1.97,"y":1.8},{"x":1.94,"y":2.1},{"x":1.96,"y":2.5},{"x":2.0,"y":1.4},{"x":2.02,"y":1.7},{"x":1.99,"y":2.0},{"x":2.01,"y":2.4},{"x":2.03,"y":2.9},{"x":2.05,"y":1.6},{"x":2.07,"y":1.9},{"x":2.04,"y":2.2},{"x":2.06,"y":2.6},{"x":2.1,"y":1.5},{"x":2.12,"y":1.8},{"x":2.09,"y":2.1},{"x":2.11,"y":2.5},{"x":2.13,"y":3.0},{"x":2.15,"y":1.7},{"x":2.17,"y":2.0},{"x":2.14,"y":2.3},{"x":2.16,"y":2.7},{"x":2.2,"y":1.5},{"x":2.22,"y":1.9},{"x":2.19,"y":2.2},{"x":2.21,"y":2.6},{"x":2.23,"y":3.1},{"x":2.25,"y":1.8},{"x":2.27,"y":2.1},{"x":2.24,"y":2.4},{"x":2.26,"y":2.8},{"x":2.3,"y":1.6},{"x":2.32,"y":1.9},{"x":2.29,"y":2.3},{"x":2.31,"y":2.7},{"x":2.33,"y":3.2},{"x":2.35,"y":2.0},{"x":2.37,"y":2.4},{"x":2.34,"y":2.9},{"x":2.4,"y":1.7},{"x":2.42,"y":2.1},{"x":2.39,"y":2.5},{"x":2.41,"y":2.8},{"x":2.43,"y":3.3},{"x":2.45,"y":1.9},{"x":2.47,"y":2.2},{"x":2.44,"y":2.6},{"x":2.46,"y":3.0},{"x":2.5,"y":1.8},{"x":2.52,"y":2.1},{"x":2.49,"y":2.4},{"x":2.51,"y":2.7},{"x":2.53,"y":3.1},{"x":2.48,"y":3.4},{"x":2.55,"y":2.0},{"x":2.57,"y":2.3},{"x":2.54,"y":2.9},{"x":2.6,"y":1.9},{"x":2.62,"y":2.2},{"x":2.59,"y":2.6},{"x":2.61,"y":3.0},{"x":2.63,"y":3.5},{"x":2.65,"y":2.1},{"x":2.67,"y":2.4},{"x":2.64,"y":2.8},{"x":2.66,"y":3.2},{"x":2.7,"y":2.0},{"x":2.72,"y":2.3},{"x":2.69,"y":2.7},{"x":2.71,"y":3.1},{"x":2.73,"y":3.6},{"x":2.75,"y":2.2},{"x":2.77,"y":2.5},{"x":2.74,"y":2.9},{"x":2.76,"y":3.4},{"x":2.8,"y":2.1},{"x":2.82,"y":2.4},{"x":2.79,"y":2.8},{"x":2.81,"y":3.2},{"x":2.83,"y":3.7},{"x":2.9,"y":2.3},{"x":2.92,"y":2.6},{"x":2.89,"y":3.0},{"x":2.91,"y":3.3},{"x":2.93,"y":3.8},{"x":3.0,"y":2.4},{"x":3.02,"y":2.8},{"x":2.99,"y":3.1},{"x":3.01,"y":3.5},{"x":3.03,"y":4.0},{"x":3.1,"y":2.5},{"x":3.12,"y":2.9},{"x":3.09,"y":3.3},{"x":3.11,"y":3.7},{"x":3.13,"y":4.2},{"x":3.2,"y":2.7},{"x":3.22,"y":3.1},{"x":3.19,"y":3.5},{"x":3.21,"y":3.9},{"x":3.3,"y":3.0},{"x":3.32,"y":3.4},{"x":3.29,"y":3.8},{"x":3.4,"y":3.2},{"x":3.42,"y":3.6}],
 "f": [{"x":0.95,"y":1.89},{"x":1.02,"y":1.96},{"x":1.28,"y":1.59},{"x":1.36,"y":1.54},{"x":1.38,"y":2.08},{"x":1.59,"y":2.25},{"x":1.63,"y":2.32},{"x":1.68,"y":2.53},{"x":1.72,"y":2.25},{"x":1.75,"y":2.44},{"x":1.77,"y":2.2},{"x":1.82,"y":2.84},{"x":1.9,"y":2.18},{"x":1.92,"y":1.96},{"x":2.16,"y":2.18},{"x":2.19,"y":2.3},{"x":2.25,"y":2.6},{"x":2.29,"y":2.37},{"x":2.54,"y":3.12},{"x":2.58,"y":2.2},{"x":2.69,"y":2.18},{"x":3.07,"y":2.86},{"x":3.11,"y":3.08},{"x":3.27,"y":2.77},{"x":3.56,"y":3.5},{"x":3.82,"y":5.35},{"x":4.27,"y":5.85}],
 "g": [{"x":0.37,"y":0.99},{"x":0.51,"y":1.59},{"x":0.67,"y":2.04},{"x":0.85,"y":2.28},{"x":1.09,"y":2.24},{"x":1.44,"y":3.17},{"x":1.75,"y":3.29},{"x":2.54,"y":1.13},{"x":2.69,"y":1.88},{"x":3.14,"y":5.05},{"x":3.19,"y":5.17},{"x":3.38,"y":5.12},{"x":3.43,"y":5.53},{"x":3.62,"y":6.01},{"x":3.74,"y":6.42},{"x":3.85,"y":5.94},{"x":4.06,"y":6.08},{"x":4.03,"y":5.41},{"x":4.29,"y":6.08},{"x":4.37,"y":7.21},{"x":4.46,"y":6.8},{"x":4.52,"y":6.49},{"x":4.67,"y":6.42},{"x":4.76,"y":6.9},{"x":4.88,"y":7.45},{"x":4.82,"y":6.56},{"x":4.9,"y":6.18},{"x":4.97,"y":6.59},{"x":5.06,"y":6.01},{"x":5.1,"y":5.65},{"x":5.18,"y":6.59},{"x":5.31,"y":6.73},{"x":5.33,"y":5.53},{"x":5.46,"y":7.12},{"x":5.23,"y":4.76},{"x":5.16,"y":5.29},{"x":4.88,"y":4.74},{"x":4.64,"y":4.35},{"x":4.52,"y":4.69},{"x":4.22,"y":4.69},{"x":3.96,"y":4.21},{"x":3.77,"y":3.25},{"x":3.61,"y":2.16},{"x":3.55,"y":2.28},{"x":3.4,"y":2.28},{"x":3.25,"y":2.16},
  {"x":0.35,"y":0.6},{"x":0.37,"y":0.9},{"x":0.4,"y":0.5},{"x":0.42,"y":0.8},{"x":0.39,"y":1.1},{"x":0.45,"y":0.6},{"x":0.47,"y":0.9},{"x":0.44,"y":1.2},{"x":0.5,"y":0.7},{"x":0.52,"y":1.0},{"x":0.49,"y":1.3},{"x":0.55,"y":0.6},{"x":0.57,"y":0.8},{"x":0.54,"y":1.1},{"x":0.56,"y":1.4},{"x":0.6,"y":0.7},{"x":0.62,"y":0.9},{"x":0.59,"y":1.2},{"x":0.65,"y":0.6},{"x":0.67,"y":0.8},{"x":0.64,"y":1.0},{"x":0.66,"y":1.3},{"x":0.68,"y":1.6},{"x":0.7,"y":0.7},{"x":0.72,"y":0.9},{"x":0.69,"y":1.1},{"x":0.71,"y":1.4},{"x":0.75,"y":0.8},{"x":0.77,"y":1.0},{"x":0.74,"y":1.2},{"x":0.76,"y":1.5},{"x":0.8,"y":0.7},{"x":0.82,"y":0.9},{"x":0.79,"y":1.1},{"x":0.81,"y":1.3},{"x":0.83,"y":1.7},{"x":0.85,"y":0.8},{"x":0.87,"y":1.0},{"x":0.84,"y":1.2},{"x":0.86,"y":1.5},{"x":0.9,"y":0.8},{"x":0.92,"y":1.1},{"x":0.89,"y":1.3},{"x":0.91,"y":1.6},{"x":0.93,"y":1.9},{"x":0.95,"y":0.9},{"x":0.97,"y":1.1},{"x":0.94,"y":1.4},{"x":0.96,"y":1.7},{"x":1.0,"y":0.8},{"x":1.02,"y":1.0},{"x":0.99,"y":1.2},{"x":1.01,"y":1.5},{"x":1.03,"y":1.8},{"x":1.05,"y":0.9},{"x":1.07,"y":1.1},{"x":1.04,"y":1.3},{"x":1.06,"y":1.6},{"x":1.1,"y":0.9},{"x":1.12,"y":1.2},{"x":1.09,"y":1.4},{"x":1.11,"y":1.7},{"x":1.13,"y":2.0},{"x":1.15,"y":1.0},{"x":1.17,"y":1.2},{"x":1.14,"y":1.5},{"x":1.16,"y":1.8},{"x":1.2,"y":0.9},{"x":1.22,"y":1.1},{"x":1.19,"y":1.3},{"x":1.21,"y":1.6},{"x":1.23,"y":1.9},{"x":1.18,"y":2.2},{"x":1.25,"y":1.0},{"x":1.27,"y":1.2},{"x":1.24,"y":1.4},{"x":1.26,"y":1.7},{"x":1.3,"y":1.0},{"x":1.32,"y":1.3},{"x":1.29,"y":1.5},{"x":1.31,"y":1.8},{"x":1.33,"y":2.1},{"x":1.35,"y":1.1},{"x":1.37,"y":1.4},{"x":1.34,"y":1.6},{"x":1.36,"y":1.9},{"x":1.4,"y":1.1},{"x":1.42,"y":1.3},{"x":1.39,"y":1.5},{"x":1.41,"y":1.8},{"x":1.43,"y":2.0},{"x":1.38,"y":2.3},{"x":1.45,"y":1.2},{"x":1.47,"y":1.4},{"x":1.44,"y":1.7},{"x":1.46,"y":1.9},{"x":1.5,"y":1.1},{"x":1.52,"y":1.3},{"x":1.49,"y":1.6},{"x":1.51,"y":1.8},{"x":1.53,"y":2.1},{"x":1.48,"y":2.4},{"x":1.55,"y":1.2},{"x":1.57,"y":1.5},{"x":1.54,"y":1.7},{"x":1.56,"y":2.0},{"x":1.6,"y":1.2},{"x":1.62,"y":1.4},{"x":1.59,"y":1.6},{"x":1.61,"y":1.9},{"x":1.63,"y":2.2},{"x":1.58,"y":2.5},{"x":1.65,"y":1.3},{"x":1.67,"y":1.5},{"x":1.64,"y":1.8},{"x":1.66,"y":2.1},{"x":1.7,"y":1.3},{"x":1.72,"y":1.6},{"x":1.69,"y":1.8},{"x":1.71,"y":2.0},{"x":1.73,"y":2.3},{"x":1.68,"y":2.6},{"x":1.75,"y":1.4},{"x":1.77,"y":1.7},{"x":1.74,"y":1.9},{"x":1.76,"y":2.2},{"x":1.8,"y":1.4},{"x":1.82,"y":1.6},{"x":1.79,"y":1.9},{"x":1.81,"y":2.1},{"x":1.83,"y":2.4},{"x":1.78,"y":2.7},{"x":1.85,"y":1.5},{"x":1.87,"y":1.8},{"x":1.84,"y":2.0},{"x":1.86,"y":2.3},{"x":1.9,"y":1.5},{"x":1.92,"y":1.7},{"x":1.89,"y":2.0},{"x":1.91,"y":2.2},{"x":1.93,"y":2.5},{"x":1.88,"y":2.8},{"x":1.95,"y":1.6},{"x":1.97,"y":1.9},{"x":1.94,"y":2.1},{"x":1.96,"y":2.4},{"x":2.0,"y":1.5},{"x":2.02,"y":1.8},{"x":1.99,"y":2.0},{"x":2.01,"y":2.3},{"x":2.03,"y":2.6},{"x":1.98,"y":2.9},{"x":2.05,"y":1.7},{"x":2.07,"y":1.9},{"x":2.04,"y":2.2},{"x":2.06,"y":2.5},{"x":2.1,"y":1.6},{"x":2.12,"y":1.9},{"x":2.09,"y":2.1},{"x":2.11,"y":2.4},{"x":2.13,"y":2.7},{"x":2.08,"y":3.0},{"x":2.15,"y":1.8},{"x":2.17,"y":2.0},{"x":2.14,"y":2.3},{"x":2.16,"y":2.6},{"x":2.2,"y":1.7},{"x":2.22,"y":2.0},{"x":2.19,"y":2.2},{"x":2.21,"y":2.5},{"x":2.23,"y":2.8},{"x":2.18,"y":3.1},{"x":2.25,"y":1.9},{"x":2.27,"y":2.1},{"x":2.24,"y":2.4},{"x":2.26,"y":2.7},{"x":2.3,"y":1.8},{"x":2.32,"y":2.1},{"x":2.29,"y":2.3},{"x":2.31,"y":2.6},{"x":2.33,"y":2.9},{"x":2.28,"y":3.2},{"x":2.35,"y":2.0},{"x":2.37,"y":2.2},{"x":2.34,"y":2.5},{"x":2.36,"y":2.8},{"x":2.4,"y":1.9},{"x":2.42,"y":2.2},{"x":2.39,"y":2.4},{"x":2.41,"y":2.7},{"x":2.43,"y":3.0},{"x":2.38,"y":3.3},{"x":2.45,"y":2.1},{"x":2.47,"y":2.3},{"x":2.44,"y":2.6},{"x":2.46,"y":2.9},{"x":2.5,"y":2.0},{"x":2.52,"y":2.3},{"x":2.49,"y":2.5},{"x":2.51,"y":2.8},{"x":2.53,"y":3.1},{"x":2.48,"y":3.4},{"x":2.6,"y":2.1},{"x":2.62,"y":2.4},{"x":2.59,"y":2.7},{"x":2.61,"y":3.0},{"x":2.63,"y":3.3},{"x":2.58,"y":3.6},{"x":2.7,"y":2.2},{"x":2.72,"y":2.5},{"x":2.69,"y":2.8},{"x":2.71,"y":3.1},{"x":2.73,"y":3.4},{"x":2.68,"y":3.8},{"x":2.8,"y":2.3},{"x":2.82,"y":2.6},{"x":2.79,"y":2.9},{"x":2.81,"y":3.2},{"x":2.83,"y":3.5},{"x":2.78,"y":3.9},{"x":2.9,"y":2.4},{"x":2.92,"y":2.7},{"x":2.89,"y":3.0},{"x":2.91,"y":3.3},{"x":2.93,"y":3.7},{"x":2.88,"y":4.1},{"x":3.0,"y":2.5},{"x":3.02,"y":2.8},{"x":2.99,"y":3.1},{"x":3.01,"y":3.5},{"x":3.03,"y":3.9},{"x":2.98,"y":4.3},{"x":3.1,"y":2.6},{"x":3.12,"y":2.9},{"x":3.09,"y":3.3},{"x":3.11,"y":3.7},{"x":3.13,"y":4.1},{"x":3.08,"y":4.5},{"x":3.2,"y":2.7},{"x":3.22,"y":3.1},{"x":3.19,"y":3.5},{"x":3.21,"y":3.9},{"x":3.23,"y":4.3},{"x":3.18,"y":4.7},{"x":3.3,"y":2.9},{"x":3.32,"y":3.3},{"x":3.29,"y":3.7},{"x":3.31,"y":4.1},{"x":3.33,"y":4.5},{"x":3.28,"y":4.9},{"x":3.4,"y":3.0},{"x":3.42,"y":3.4},{"x":3.39,"y":3.8},{"x":3.41,"y":4.2},{"x":3.43,"y":4.6},{"x":3.38,"y":5.0},{"x":3.5,"y":3.2},{"x":3.52,"y":3.6},{"x":3.49,"y":4.0},{"x":3.51,"y":4.4},{"x":3.53,"y":4.8},{"x":3.6,"y":3.4},{"x":3.62,"y":3.8},{"x":3.59,"y":4.2},{"x":3.61,"y":4.6},{"x":3.63,"y":5.1},{"x":3.7,"y":3.6},{"x":3.72,"y":4.0},{"x":3.69,"y":4.4},{"x":3.71,"y":4.8},{"x":3.73,"y":5.3},{"x":3.8,"y":3.9},{"x":3.82,"y":4.3},{"x":3.79,"y":4.7},{"x":3.81,"y":5.1},{"x":3.83,"y":5.5},{"x":3.9,"y":4.2},{"x":3.92,"y":4.6},{"x":3.89,"y":5.0},{"x":3.91,"y":5.4},{"x":4.0,"y":4.4},{"x":4.02,"y":4.8},{"x":3.99,"y":5.2},{"x":4.01,"y":5.7},{"x":4.1,"y":4.5},{"x":4.12,"y":4.9},{"x":4.09,"y":5.3},{"x":4.11,"y":5.8},{"x":4.2,"y":4.6},{"x":4.22,"y":5.0},{"x":4.19,"y":5.5},{"x":4.21,"y":5.9},{"x":4.3,"y":4.7},{"x":4.32,"y":5.1},{"x":4.29,"y":5.6},{"x":4.31,"y":6.0},{"x":4.4,"y":4.8},{"x":4.42,"y":5.3},{"x":4.39,"y":5.8},{"x":4.5,"y":4.9},{"x":4.52,"y":5.4},{"x":4.49,"y":6.0},{"x":4.6,"y":5.0},{"x":4.62,"y":5.5},{"x":4.59,"y":6.1},{"x":4.7,"y":5.6},{"x":4.72,"y":6.2}],
 "h": [{"x":0.97,"y":0.55},{"x":1.01,"y":0.84},{"x":1.02,"y":1.08},{"x":1.25,"y":1.97},{"x":1.28,"y":0.72},{"x":1.34,"y":1.13},{"x":1.39,"y":0.79},{"x":1.45,"y":1.2},{"x":1.55,"y":1.32},{"x":1.59,"y":1.61},{"x":1.63,"y":1.85},{"x":1.7,"y":1.2},{"x":1.75,"y":2.16},{"x":1.77,"y":1.56},{"x":1.82,"y":1.2},{"x":1.87,"y":2.24},{"x":1.9,"y":1.68},{"x":1.96,"y":1.44},{"x":1.99,"y":1.03},{"x":2.03,"y":1.8},{"x":2.07,"y":2.28},{"x":2.1,"y":1.44},{"x":2.16,"y":1.56},{"x":2.21,"y":1.92},{"x":2.25,"y":1.2},{"x":2.28,"y":1.61},{"x":2.32,"y":1.37},{"x":2.36,"y":2.33},{"x":2.39,"y":1.08},{"x":2.43,"y":1.68},{"x":2.5,"y":1.56},{"x":2.58,"y":1.8},{"x":2.63,"y":2.09},{"x":2.65,"y":2.88},{"x":2.7,"y":1.56},{"x":2.74,"y":2.28},{"x":2.76,"y":1.51},{"x":2.8,"y":2.16},{"x":2.85,"y":2.28},{"x":2.91,"y":2.04},{"x":3.05,"y":2.93},{"x":3.12,"y":1.2},{"x":3.31,"y":2.93},{"x":3.33,"y":2.09},{"x":3.42,"y":2.24},{"x":3.62,"y":3.17},{"x":3.71,"y":2.88},{"x":3.78,"y":2.72},{"x":3.78,"y":4.01},{"x":3.82,"y":2.72},{"x":3.96,"y":3.25},{"x":3.98,"y":2.88},{"x":5.08,"y":5.48},{"x":5.23,"y":6.37},{"x":5.35,"y":6.18},{"x":5.55,"y":6.9},{"x":5.61,"y":6.73},{"x":5.69,"y":7.45},{"x":1.7,"y":1.5},{"x":1.8,"y":1.7},{"x":1.85,"y":1.45},{"x":1.95,"y":1.75},{"x":2.05,"y":1.55},{"x":2.1,"y":1.85},{"x":2.2,"y":1.65},{"x":2.3,"y":1.75},{"x":2.35,"y":1.5},{"x":2.45,"y":1.85},{"x":2.55,"y":1.6},{"x":2.6,"y":1.9},{"x":2.7,"y":1.7},{"x":2.8,"y":1.85},{"x":2.9,"y":1.6},{"x":1.6,"y":1.4},{"x":1.5,"y":1.45},{"x":1.65,"y":1.7},{"x":2.0,"y":1.6},{"x":2.15,"y":1.4}],
 "i": [{"x":0.48,"y":0.99},{"x":0.67,"y":0.54},{"x":0.71,"y":0.89},{"x":0.82,"y":1.51},{"x":0.86,"y":1.15},{"x":0.94,"y":1.4},{"x":1.05,"y":2.02},{"x":1.08,"y":0.78},{"x":1.21,"y":2.47},{"x":1.28,"y":2.12},{"x":1.36,"y":2.85},{"x":1.46,"y":2.33},{"x":1.55,"y":2.54},{"x":1.59,"y":1.81},{"x":1.72,"y":2.64},{"x":1.75,"y":2.33},{"x":1.86,"y":2.02},{"x":2.0,"y":2.89},{"x":2.02,"y":2.43},{"x":2.18,"y":2.89},{"x":2.26,"y":2.95},{"x":2.44,"y":3.01},{"x":2.48,"y":1.65},{"x":2.57,"y":2.64},{"x":2.67,"y":3.67},{"x":2.71,"y":1.81},{"x":2.75,"y":4.04},{"x":2.78,"y":3.36},{"x":2.82,"y":3.09},{"x":2.86,"y":3.2},{"x":2.92,"y":3.3},{"x":2.94,"y":1.81},{"x":3.02,"y":4.7},{"x":3.17,"y":3.34},{"x":3.25,"y":3.75},{"x":3.32,"y":3.34},{"x":3.48,"y":2.33},{"x":3.48,"y":3.67},{"x":3.59,"y":3.57},{"x":3.65,"y":3.36},{"x":3.72,"y":3.22},{"x":3.71,"y":5.42},{"x":3.75,"y":4.43},{"x":3.85,"y":5.57},{"x":3.86,"y":5.28},{"x":3.95,"y":3.3},{"x":3.96,"y":3.46},{"x":3.98,"y":3.77},{"x":4.04,"y":6.02},{"x":4.17,"y":4.08},{"x":4.32,"y":6.41},{"x":4.36,"y":5.69},{"x":4.68,"y":6.14},
  {"x":0.8,"y":1.0},{"x":0.85,"y":1.3},{"x":0.9,"y":0.9},{"x":0.95,"y":1.2},{"x":1.0,"y":1.5},{"x":1.0,"y":1.0},{"x":1.05,"y":1.3},{"x":1.1,"y":1.1},{"x":1.1,"y":1.6},{"x":1.15,"y":1.4},{"x":1.2,"y":1.0},{"x":1.2,"y":1.8},{"x":1.25,"y":1.3},{"x":1.3,"y":1.5},{"x":1.3,"y":1.1},{"x":1.35,"y":1.7},{"x":1.4,"y":1.4},{"x":1.4,"y":2.0},{"x":1.45,"y":1.2},{"x":1.5,"y":1.6},{"x":1.5,"y":1.3},{"x":1.55,"y":1.9},{"x":1.6,"y":1.5},{"x":1.6,"y":2.2},{"x":1.65,"y":1.3},{"x":1.7,"y":1.7},{"x":1.7,"y":2.0},{"x":1.75,"y":1.5},{"x":1.8,"y":1.9},{"x":1.85,"y":1.6},{"x":1.9,"y":2.2},{"x":1.9,"y":1.4},{"x":1.95,"y":1.8},{"x":2.0,"y":2.0},{"x":2.05,"y":1.7},{"x":2.1,"y":2.3},{"x":2.15,"y":1.9},{"x":2.2,"y":2.1},{"x":2.25,"y":1.8},{"x":2.3,"y":2.4},{"x":2.35,"y":2.0},{"x":2.4,"y":2.6},{"x":2.5,"y":2.2},{"x":1.15,"y":2.0},{"x":1.35,"y":1.0},{"x":1.55,"y":1.2}]
},
"columns": 2,
"spacing": {"row": 231, "column": 230},
"bounds": "flush",
"center": true,
"concat": [
 {"width": 358, "height": 120, "title": {"text": "(a) Bhola", "offset": 22.5},
  "encoding": {
   "x": {"field": "x", "type": "quantitative", "scale": {"domain": [0, 8], "nice": false}, "axis": {"values": [0, 2, 4, 6, 8], "labelOverlap": false, "labelFlush": false, "title": "Atm. Water Vapour (AERONET) , cm"}},
   "y": {"field": "y", "type": "quantitative", "scale": {"domain": [0, 8], "nice": false}, "axis": {"values": [0, 2, 4, 6, 8], "labelOverlap": false, "labelFlush": false, "title": ["Atm.  Water Vapour", "(MODIS AQUA), cm"]}}
  },
  "layer": [
   {"data": {"name": "a"}, "mark": {"type": "point", "filled": false, "size": 36, "strokeWidth": 1.6, "opacity": 1},
    "encoding": {
     "color": {"datum": "Data", "scale": {"domain": ["Data", "1:1 line"], "range": ["#1f70c8", "#ffc000"]}, "legend": {"title": null, "orient": "none", "legendX": 136, "legendY": 1649, "direction": "horizontal", "columns": 2, "columnPadding": 205, "labelFont": "Liberation Serif", "labelFontSize": 33, "labelColor": "#000", "labelOffset": 27, "symbolSize": 30, "symbolStrokeWidth": 1.4}},
     "shape": {"datum": "Data", "scale": {"domain": ["Data", "1:1 line"], "range": ["circle", "M-3.3,-0.45H3.3V0.45H-3.3Z"]}, "legend": {"title": null, "orient": "none", "legendX": 136, "legendY": 1649, "direction": "horizontal", "columns": 2, "columnPadding": 205, "labelFont": "Liberation Serif", "labelFontSize": 33, "labelColor": "#000", "labelOffset": 27, "symbolSize": 30, "symbolStrokeWidth": 1.4}}
    }},
   {"data": {"name": "line"}, "mark": {"type": "line", "color": "#ffc000", "strokeWidth": 3.5}, "encoding": {}}
  ]},
 {"width": 364, "height": 120, "title": {"text": "(b) Dhaka University", "offset": 22.5},
  "encoding": {
   "x": {"field": "x", "type": "quantitative", "scale": {"domain": [0, 8], "nice": false}, "axis": {"values": [0, 2, 4, 6, 8], "labelOverlap": false, "labelFlush": false, "title": "Atm. Water Vapour (AERONET) , cm"}},
   "y": {"field": "y", "type": "quantitative", "scale": {"domain": [0, 8], "nice": false}, "axis": {"values": [0, 2, 4, 6, 8], "labelOverlap": false, "labelFlush": false, "title": ["Atm.  Water Vapour", "(MODIS AQUA), cm"], "titleX": -128}}
  },
  "layer": [
   {"data": {"name": "b"}, "mark": {"type": "point", "filled": false, "size": 36, "strokeWidth": 1.6, "opacity": 1},
    "encoding": {
     "color": {"datum": "Data", "scale": {"domain": ["Data", "1:1 line"], "range": ["#1f70c8", "#ffc000"]}, "legend": {"title": null}},
     "shape": {"datum": "Data", "scale": {"domain": ["Data", "1:1 line"], "range": ["circle", "M-3.3,-0.45H3.3V0.45H-3.3Z"]}, "legend": {"title": null}}
    }},
   {"data": {"name": "line"}, "mark": {"type": "line", "color": "#ffc000", "strokeWidth": 3.5}, "encoding": {}}
  ]},
 {"width": 358, "height": 113, "title": {"text": "(c) Gandhi College", "offset": 24},
  "encoding": {
   "x": {"field": "x", "type": "quantitative", "scale": {"domain": [0, 8], "nice": false}, "axis": {"values": [0, 2, 4, 6, 8], "labelOverlap": false, "labelFlush": false, "title": "Atm. Water Vapour (AERONET) , cm"}},
   "y": {"field": "y", "type": "quantitative", "scale": {"domain": [0, 8], "nice": false}, "axis": {"values": [0, 2, 4, 6, 8], "labelOverlap": false, "labelFlush": false, "title": ["Atm.  Water Vapour", "(MODIS AQUA), cm"]}}
  },
  "layer": [
   {"data": {"name": "c"}, "mark": {"type": "point", "filled": false, "size": 36, "strokeWidth": 1.6, "opacity": 1},
    "encoding": {
     "color": {"datum": "Data", "scale": {"domain": ["Data", "1:1 line"], "range": ["#1f70c8", "#ffc000"]}, "legend": {"title": null}},
     "shape": {"datum": "Data", "scale": {"domain": ["Data", "1:1 line"], "range": ["circle", "M-3.3,-0.45H3.3V0.45H-3.3Z"]}, "legend": {"title": null}}
    }},
   {"data": {"name": "line"}, "mark": {"type": "line", "color": "#ffc000", "strokeWidth": 3.5}, "encoding": {}}
  ]},
 {"width": 364, "height": 113, "title": {"text": "(d) Kanpur", "offset": 23.5},
  "encoding": {
   "x": {"field": "x", "type": "quantitative", "scale": {"domain": [0, 8], "nice": false}, "axis": {"values": [0, 2, 4, 6, 8], "labelOverlap": false, "labelFlush": false, "offset": -2.5, "title": "Atm. Water Vapour (AERONET) , cm"}},
   "y": {"field": "y", "type": "quantitative", "scale": {"domain": [0, 8], "nice": false, "range": [110.5, 2.5]}, "axis": {"values": [0, 2, 4, 6, 8], "labelOverlap": false, "labelFlush": false, "title": ["Atm.  Water Vapour", "(MODIS AQUA), cm"], "titleY": 102}}
  },
  "layer": [
   {"data": {"name": "d"}, "mark": {"type": "point", "filled": false, "size": 36, "strokeWidth": 1.6, "opacity": 1},
    "encoding": {
     "color": {"datum": "Data", "scale": {"domain": ["Data", "1:1 line"], "range": ["#1f70c8", "#ffc000"]}, "legend": {"title": null}},
     "shape": {"datum": "Data", "scale": {"domain": ["Data", "1:1 line"], "range": ["circle", "M-3.3,-0.45H3.3V0.45H-3.3Z"]}, "legend": {"title": null}}
    }},
   {"data": {"name": "line"}, "mark": {"type": "line", "color": "#ffc000", "strokeWidth": 3.5}, "encoding": {}}
  ]},
 {"width": 358, "height": 119, "title": {"text": "(e) Karachi", "offset": 24},
  "encoding": {
   "x": {"field": "x", "type": "quantitative", "scale": {"domain": [0, 8], "nice": false}, "axis": {"values": [0, 2, 4, 6, 8], "labelOverlap": false, "labelFlush": false, "title": "Atm. Water Vapour (AERONET), cm"}},
   "y": {"field": "y", "type": "quantitative", "scale": {"domain": [0, 8], "nice": false}, "axis": {"values": [0, 2, 4, 6, 8], "labelOverlap": false, "labelFlush": false, "title": ["Atm.  Water Vapour", "(MODIS AQUA), cm"]}}
  },
  "layer": [
   {"data": {"name": "e"}, "mark": {"type": "point", "filled": false, "size": 36, "strokeWidth": 1.6, "opacity": 1},
    "encoding": {
     "color": {"datum": "Data", "scale": {"domain": ["Data", "1:1 line"], "range": ["#1f70c8", "#ffc000"]}, "legend": {"title": null}},
     "shape": {"datum": "Data", "scale": {"domain": ["Data", "1:1 line"], "range": ["circle", "M-3.3,-0.45H3.3V0.45H-3.3Z"]}, "legend": {"title": null}}
    }},
   {"data": {"name": "line"}, "mark": {"type": "line", "color": "#ffc000", "strokeWidth": 3.5}, "encoding": {}}
  ]},
 {"width": 364, "height": 119, "title": {"text": "(f) Kolkata", "offset": 23.5},
  "encoding": {
   "x": {"field": "x", "type": "quantitative", "scale": {"domain": [0, 8], "nice": false}, "axis": {"values": [0, 2, 4, 6, 8], "labelOverlap": false, "labelFlush": false, "offset": -2.5, "title": "Atm. Water Vapour (AERONET) , cm"}},
   "y": {"field": "y", "type": "quantitative", "scale": {"domain": [0, 8], "nice": false, "range": [116.5, 2.5]}, "axis": {"values": [0, 2, 4, 6, 8], "labelOverlap": false, "labelFlush": false, "title": ["Atm.  Water Vapour", "(MODIS AQUA), cm"], "titleX": -128, "titleY": 118}}
  },
  "layer": [
   {"data": {"name": "f"}, "mark": {"type": "point", "filled": false, "size": 36, "strokeWidth": 1.6, "opacity": 1},
    "encoding": {
     "color": {"datum": "Data", "scale": {"domain": ["Data", "1:1 line"], "range": ["#1f70c8", "#ffc000"]}, "legend": {"title": null}},
     "shape": {"datum": "Data", "scale": {"domain": ["Data", "1:1 line"], "range": ["circle", "M-3.3,-0.45H3.3V0.45H-3.3Z"]}, "legend": {"title": null}}
    }},
   {"data": {"name": "line"}, "mark": {"type": "line", "color": "#ffc000", "strokeWidth": 3.5}, "encoding": {}}
  ]},
 {"width": 358, "height": 111, "title": {"text": "(g) Lahore", "offset": 21},
  "encoding": {
   "x": {"field": "x", "type": "quantitative", "scale": {"domain": [0, 8], "nice": false}, "axis": {"values": [0, 2, 4, 6, 8], "labelOverlap": false, "labelFlush": false, "title": "Atm. Water Vapour (AERONET), cm"}},
   "y": {"field": "y", "type": "quantitative", "scale": {"domain": [0, 8], "nice": false}, "axis": {"values": [0, 2, 4, 6, 8], "labelOverlap": false, "labelFlush": false, "title": ["Atm.  Water Vapour", "(MODIS AQUA), cm"], "titleX": -137, "titleY": 96}}
  },
  "layer": [
   {"data": {"name": "g"}, "mark": {"type": "point", "filled": false, "size": 36, "strokeWidth": 1.6, "opacity": 1},
    "encoding": {
     "color": {"datum": "Data", "scale": {"domain": ["Data", "1:1 line"], "range": ["#1f70c8", "#ffc000"]}, "legend": {"title": null}},
     "shape": {"datum": "Data", "scale": {"domain": ["Data", "1:1 line"], "range": ["circle", "M-3.3,-0.45H3.3V0.45H-3.3Z"]}, "legend": {"title": null}}
    }},
   {"data": {"name": "line"}, "mark": {"type": "line", "color": "#ffc000", "strokeWidth": 3.5}, "encoding": {}}
  ]},
 {"width": 364, "height": 113, "title": {"text": "(h) Lumbini", "offset": 23.5},
  "encoding": {
   "x": {"field": "x", "type": "quantitative", "scale": {"domain": [0, 8], "nice": false}, "axis": {"values": [0, 2, 4, 6, 8], "labelOverlap": false, "labelFlush": false, "title": "Atm. Water Vapour (AERONET) , cm"}},
   "y": {"field": "y", "type": "quantitative", "scale": {"domain": [0, 8], "nice": false}, "axis": {"values": [0, 2, 4, 6, 8], "labelOverlap": false, "labelFlush": false, "title": ["Atm.  Water Vapour", "(MODIS AQUA), cm"], "titleX": -128}}
  },
  "layer": [
   {"data": {"name": "h"}, "mark": {"type": "point", "filled": false, "size": 36, "strokeWidth": 1.6, "opacity": 1},
    "encoding": {
     "color": {"datum": "Data", "scale": {"domain": ["Data", "1:1 line"], "range": ["#1f70c8", "#ffc000"]}, "legend": {"title": null}},
     "shape": {"datum": "Data", "scale": {"domain": ["Data", "1:1 line"], "range": ["circle", "M-3.3,-0.45H3.3V0.45H-3.3Z"]}, "legend": {"title": null}}
    }},
   {"data": {"name": "line"}, "mark": {"type": "line", "color": "#ffc000", "strokeWidth": 3.5}, "encoding": {}}
  ]},
 {"width": 347, "height": 130, "title": {"text": "(i) New Delhi", "offset": 13.5},
  "encoding": {
   "x": {"field": "x", "type": "quantitative", "scale": {"domain": [0, 8], "nice": false}, "axis": {"values": [0, 2, 4, 6, 8], "labelOverlap": false, "labelFlush": false, "title": "Atm. Water Vapour (AERONET), cm"}},
   "y": {"field": "y", "type": "quantitative", "scale": {"domain": [0, 8], "nice": false}, "axis": {"values": [0, 2, 4, 6, 8], "labelOverlap": false, "labelFlush": false, "title": ["Atm.  Water Vapour", "(MODIS AQUA), cm"], "titleX": -120}}
  },
  "layer": [
   {"data": {"name": "i"}, "mark": {"type": "point", "filled": false, "size": 36, "strokeWidth": 1.6, "opacity": 1},
    "encoding": {
     "color": {"datum": "Data", "scale": {"domain": ["Data", "1:1 line"], "range": ["#1f70c8", "#ffc000"]}, "legend": {"title": null}},
     "shape": {"datum": "Data", "scale": {"domain": ["Data", "1:1 line"], "range": ["circle", "M-3.3,-0.45H3.3V0.45H-3.3Z"]}, "legend": {"title": null}}
    }},
   {"data": {"name": "line"}, "mark": {"type": "line", "color": "#ffc000", "strokeWidth": 3.5}, "encoding": {}}
  ]},
 {"width": 364, "height": 130, "title": {"text": "(j) Pantnagar", "offset": 22.5},
  "encoding": {
   "x": {"field": "x", "type": "quantitative", "scale": {"domain": [0, 8], "nice": false}, "axis": {"values": [0, 2, 4, 6, 8], "labelOverlap": false, "labelFlush": false, "offset": -14.5, "title": "Atm. Water Vapour (AERONET), cm"}},
   "y": {"field": "y", "type": "quantitative", "scale": {"domain": [0, 8], "nice": false, "range": [115.5, 8]}, "axis": {"values": [0, 2, 4, 6, 8], "labelOverlap": false, "labelFlush": false, "title": ["Atm.  Water Vapour", "(MODIS AQUA), cm"], "titleX": -128, "titleY": 127}}
  },
  "layer": [
   {"data": {"name": "a"}, "mark": {"type": "point", "filled": false, "size": 36, "strokeWidth": 1.6, "opacity": 1},
    "encoding": {
     "color": {"datum": "Data", "scale": {"domain": ["Data", "1:1 line"], "range": ["#1f70c8", "#ffc000"]}, "legend": {"title": null}},
     "shape": {"datum": "Data", "scale": {"domain": ["Data", "1:1 line"], "range": ["circle", "M-3.3,-0.45H3.3V0.45H-3.3Z"]}, "legend": {"title": null}}
    }},
   {"data": {"name": "line"}, "mark": {"type": "line", "color": "#ffc000", "strokeWidth": 3.5}, "encoding": {}}
  ]}
]
}
